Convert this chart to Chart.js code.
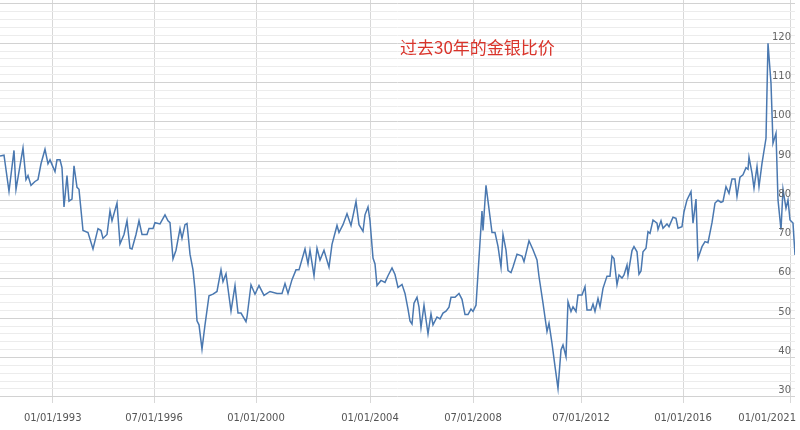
<!DOCTYPE html>
<html><head><meta charset="utf-8">
<script src="https://cdn.jsdelivr.net/npm/chart.js@4/dist/chart.umd.min.js"></script>
<style>html,body{margin:0;padding:0;background:#fff}#w{width:800px;height:430px;position:relative}</style>
</head><body><div id="w"><canvas id="c"></canvas></div>
<script>
const chartTitle = '过去30年的金银比价';
// time ordinal (chart scale units) and gold/silver ratio
const periods = [0,4,9,14,16,19,23,26,28,31,35,38,41,45,48,50,55,57,60,62,64,67,69,72,74,77,79,83,88,93,98,101,103,107,110,112,117,120,124,127,130,132,136,139,142,147,149,153,155,160,165,168,170,173,176,180,182,185,187,190,193,195,197,199,202,205,209,213,217,221,223,226,231,235,238,241,246,247,251,255,259,264,
270,277,282,285,288,292,296,299,305,308,310,314,317,320,324,329,332,337,339,343,347,351,356,359,363,365,368,370,373,375,377,381,385,388,392,395,398,402,405,408,410,412,414,417,419,421,424,428,431,433,437,440,443,446,449,451,455,459,462,465,468,471,473,476,478,482,483,486,489,492,495,498,501,503,506,508,511,513,517,522,
524,529,533,537,539,543,547,549,552,555,558,561,563,566,568,571,573,576,578,582,585,587,591,593,595,598,600,603,607,610,612,614,617,619,622,624,627,628,632,634,637,639,641,643,646,648,650,653,657,658,661,663,667,669,673,676,678,682,684,687,691,693,696,698,702,705,708,712,715,718,721,723,726,729,732,735,737,740,743,746,748,749,752,754,757,759,762,766,768,771,773,776,778,781,783,786,788,790,793,795];
const ratio = [91.3,91.5,82.3,92.7,82.8,87.3,93.3,85.3,86.3,83.8,84.8,85.3,89.3,93,89.3,90.3,87.3,90.3,90.3,88.3,78.3,86.3,79.8,80.3,88.8,83.3,82.8,72.3,71.8,67.6,72.8,72.3,70.3,71.3,77.3,74.8,79.3,68.9,71.3,74.8,67.8,67.6,71.3,74.8,71.3,71.3,72.8,72.8,74.3,74,76.3,74.8,74.3,65.1,67.3,72.8,70.3,73.8,74.1,66.3,62.3,57.3,49.3,48.3,42.1,48.3,55.7,56.1,56.8,62.3,59.3,61.3,51.8,58.3,51.3,51.3,49.1,50.3,58.5,56.1,58.3,55.8,
56.8,56.3,56.3,58.8,56.3,59.8,62.3,62.3,67.6,63.8,67.3,60.8,67.8,64.8,67.3,63,68.8,73.6,71.8,73.8,76.6,73.6,79.7,73.8,72.1,76.3,78.3,74.8,65.3,63.8,58.3,59.6,59.1,60.8,62.8,61.1,57.8,58.6,56.3,52.3,49.3,48.5,53.8,55.3,52.8,47.6,53.3,46,51.1,48.3,50.3,49.8,51.3,51.8,52.8,55.3,55.3,56.3,54.8,50.9,50.9,52.3,51.7,53.3,61.3,77.3,72.3,83.8,77.8,71.8,71.8,68.3,63,71.3,67.3,62.1,61.6,63,66.3,65.8,
64.4,69.7,67.4,64.8,60.6,53.8,46.6,48.7,43.6,37.7,32.1,41.9,43.2,40.2,54.2,51.7,52.9,51.7,55.9,55.9,58,52.1,52.1,53.6,51.7,55,52.9,57.6,60.7,60.7,65.8,65.2,58.5,61,60.2,61,63.5,61,67.2,68.2,66.9,61.2,62,66.9,67.8,72,71.6,75,74.2,72.6,74.8,72.9,74,73.3,75.7,75.4,72.9,73.3,77.1,80.1,82.2,74.2,80.3,65.2,68.2,69.5,69.2,74.3,79.3,80,79.5,79.7,83.5,81.8,85.4,85.4,81,85.9,86.5,88.3,87.9,91,86.9,83.1,88.6,83.5,89.4,95.8,120,109.8,94.5,97.1,80.1,72.5,82.8,78,80.1,75,74.2,66.1];
const tickPeriods = [52.7,154,256,370,473,581,683,790];
const tickLabels = ['01/01/1993','07/01/1996','01/01/2000','01/01/2004','07/01/2008','07/01/2012','01/01/2016','01/01/2021'];
const yLabels = [30,40,50,60,70,80,90,100,110,120];

const pts = periods.map((p,i)=>({x:p,y:ratio[i]}));
const textPlugin = {id:'t',afterDraw(ch){const c=ch.ctx;c.save();
  c.font='17px "Noto Sans CJK SC"';c.fillStyle='#d9342b';c.textBaseline='middle';c.fillText(chartTitle,400,48);
  const xs=ch.scales.x;c.font='10px "DejaVu Sans"';c.fillStyle='#555';c.textBaseline='middle';
  tickPeriods.forEach((v,i)=>{const px=xs.getPixelForValue(v);const last=i===tickPeriods.length-1;
    c.textAlign=last?'right':'center';c.fillText(tickLabels[i],last?796:px,ch.chartArea.bottom+15);});
  const ys=ch.scales.y;c.fillStyle='#666';c.textAlign='right';c.textBaseline='bottom';
  yLabels.forEach(v=>c.fillText(String(v),791,ys.getPixelForValue(v)-1));
  c.restore();}};
new Chart(document.getElementById('c'),{
 type:'line',
 data:{datasets:[{data:pts,borderColor:'#4a78b0',borderWidth:1.5,pointRadius:0,tension:0,fill:false}]},
 options:{responsive:true,maintainAspectRatio:false,animation:false,
  layout:{padding:{left:0,right:5,top:0,bottom:27}},
  plugins:{legend:{display:false},tooltip:{enabled:false}},
  scales:{
   x:{type:'linear',min:0,max:795,
     afterBuildTicks(s){s.ticks=tickPeriods.map(v=>({value:v}));},
     ticks:{display:false},
     grid:{color:'#d8d8d8',drawTicks:false},border:{display:false}},
   y:{position:'right',min:28.4,max:131,
     afterBuildTicks(s){const t=[];for(let v=30;v<=130;v+=2)t.push({value:v});s.ticks=t;},
     afterFit(s){s.width=0;},
     ticks:{display:false},
     grid:{drawTicks:false,color:c=>c.tick&&c.tick.value%10===0?'#d2d2d2':'#ececec'},border:{display:false}}
  }},
 plugins:[textPlugin]
});
</script></body></html>
